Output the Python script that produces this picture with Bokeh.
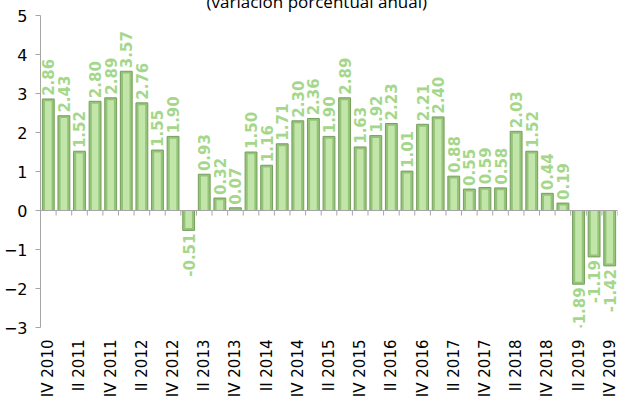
import math
from bokeh.plotting import figure
from bokeh.models import ColumnDataSource, FixedTicker, Span, Title
from bokeh.core.properties import value
from bokeh.embed import file_html
from bokeh.resources import INLINE

# ---- data ----
quarters = []
for yr in range(2010, 2020):
    for q in ["I", "II", "III", "IV"]:
        quarters.append(f"{q} {yr}")
quarters = quarters[3:]  # IV 2010 .. IV 2019

values = [2.86, 2.43, 1.52, 2.80, 2.89, 3.57, 2.76, 1.55, 1.90, -0.51,
          0.93, 0.32, 0.07, 1.50, 1.16, 1.71, 2.30, 2.36, 1.90, 2.89,
          1.63, 1.92, 2.23, 1.01, 2.21, 2.40, 0.88, 0.55, 0.59, 0.58,
          2.03, 1.52, 0.44, 0.19, -1.89, -1.19, -1.42]

title_text = "(variación porcentual anual)"
y_ticks = [-3, -2, -1, 0, 1, 2, 3, 4, 5]

n = len(values)
xs = [i + 0.5 for i in range(n)]
labels = [f"{v:.2f}" for v in values]
sgn = [1 if v >= 0 else -1 for v in values]

src = ColumnDataSource(dict(
    x=xs, top=values,
    inner_top=[v - s * 0.06 if abs(v) > 0.06 else v * 0.5 for v, s in zip(values, sgn)],
    ly=[v + s * 0.08 for v, s in zip(values, sgn)],
    txt=labels,
    align=["left" if s > 0 else "right" for s in sgn],
))

p = figure(width=620, height=416, output_backend="svg", toolbar_location=None,
           x_range=(0, n), y_range=(-3, 5),
           min_border_left=34, min_border_right=3, min_border_top=23, min_border_bottom=66,
           margin=(-16, 0, -6, 0))
p.title = Title(text=title_text, align="left", offset=166, standoff=6,
                text_font="Open Sans", text_font_size="17px", text_font_style="normal",
                text_color="#000000")
p.outline_line_color = None
p.xgrid.visible = False
p.ygrid.visible = False
p.background_fill_color = "white"
p.border_fill_color = "white"

# bars
p.vbar(x="x", top="top", bottom=0, width=0.76, source=src,
       fill_color="#95c479", line_color="#769f5e", line_width=1)
p.vbar(x="x", top="inner_top", bottom=0, width=0.42, source=src,
       fill_color="#c2e6aa", line_color=None)

# zero line and category ticks
p.add_layout(Span(location=0, dimension="width", line_color="#a6a6a6", line_width=1))
p.segment(x0=list(range(n + 1)), x1=list(range(n + 1)), y0=[0] * (n + 1), y1=[-0.13] * (n + 1),
          line_color="#a6a6a6", line_width=1)

# data labels
p.text(x="x", y="ly", text="txt", source=src, angle=math.pi / 2,
       text_align="align", text_baseline="middle",
       text_font=value("DejaVu Sans"), text_font_style="bold",
       text_font_size="15px", text_color="#a5d78b")

# y axis
p.yaxis.ticker = FixedTicker(ticks=y_ticks)
p.yaxis.axis_line_color = "#a6a6a6"
p.yaxis.major_tick_line_color = "#a6a6a6"
p.yaxis.major_tick_out = 5
p.yaxis.major_tick_in = 0
p.yaxis.minor_tick_line_color = None
p.yaxis.major_label_text_font = "DejaVu Sans"
p.yaxis.major_label_text_font_size = "16px"
p.yaxis.major_label_text_color = "#000000"
p.yaxis.major_label_standoff = 8

# x axis (labels only)
lab_idx = list(range(0, n, 2))
p.xaxis.ticker = FixedTicker(ticks=[xs[i] for i in lab_idx])
p.xaxis.major_label_overrides = {xs[i]: quarters[i] for i in lab_idx}
p.xaxis.axis_line_color = None
p.xaxis.major_tick_line_color = None
p.xaxis.minor_tick_line_color = None
p.xaxis.major_label_orientation = math.pi / 2
p.xaxis.major_label_text_font = "DejaVu Sans"
p.xaxis.major_label_text_font_size = "15px"
p.xaxis.major_label_text_color = "#000000"
p.xaxis.major_label_standoff = 6

open("out.html", "w").write(file_html(p, INLINE))
